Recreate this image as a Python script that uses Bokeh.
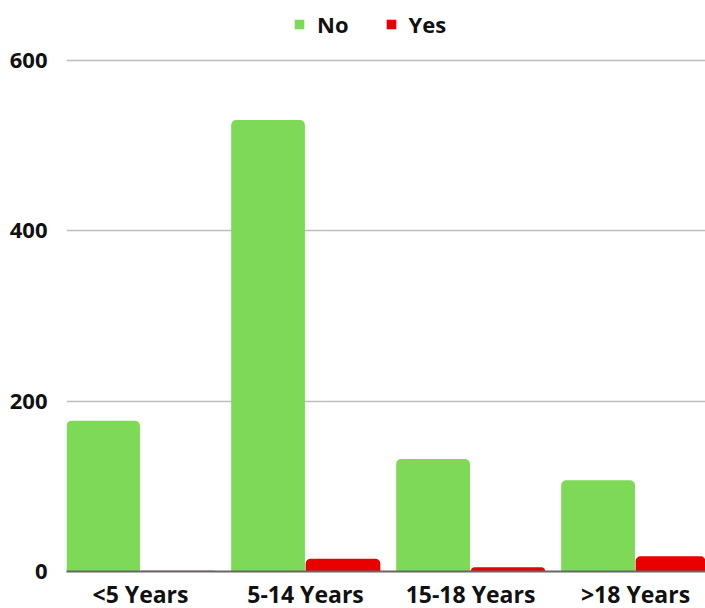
import numpy as np
from bokeh.plotting import figure
from bokeh.models import (ColumnDataSource, Range1d, FixedTicker, Legend, LegendItem)
from bokeh.transform import dodge
from bokeh.embed import file_html
from bokeh.resources import INLINE

categories = ["<5 Years", "5-14 Years", "15-18 Years", ">18 Years"]
no_values = [177, 530, 132, 107]
yes_values = [1, 15, 5, 18]
y_ticks = [0, 200, 400, 600]

GREEN = "#7ED957"
RED = "#E80000"
FONT = "Open Sans"

pos = np.arange(len(categories)) + 0.5
src = ColumnDataSource(dict(x=pos, no=no_values, yes=yes_values))

p = figure(frame_width=639, frame_height=571, output_backend="svg", toolbar_location=None,
           x_range=Range1d(0.0515, 3.924), y_range=Range1d(0, 670.4),
           min_border_left=66, min_border_right=0, min_border_top=0,
           min_border_bottom=0)
p.outline_line_color = None
p.background_fill_color = "white"
p.border_fill_color = "white"

r_no = p.vbar(x=dodge("x", -0.227, range=p.x_range), top="no", width=0.447,
              source=src, fill_color=GREEN, line_color=None,
              border_radius=(5, 5, 0, 0))
r_yes = p.vbar(x=dodge("x", 0.227, range=p.x_range), top="yes", width=0.453,
               source=src, fill_color=RED, line_color=None,
               border_radius=(5, 5, 0, 0))

p.xgrid.grid_line_color = None
p.ygrid.grid_line_color = "#BDBDBD"
p.ygrid.grid_line_width = 1.5
p.ygrid.ticker = FixedTicker(ticks=y_ticks)

p.yaxis.ticker = FixedTicker(ticks=y_ticks)
p.yaxis.axis_line_color = None
p.yaxis.major_tick_line_color = None
p.yaxis.minor_tick_line_color = None
p.yaxis.major_label_text_font = FONT
p.yaxis.major_label_text_font_style = "bold"
p.yaxis.major_label_text_font_size = "22px"
p.yaxis.major_label_text_color = "#111111"
p.yaxis.major_label_standoff = 13

p.xaxis.ticker = FixedTicker(ticks=list(pos))
p.xaxis.major_label_overrides = {float(v): c for v, c in zip(pos, categories)}
p.xaxis.axis_line_color = "#666666"
p.xaxis.axis_line_width = 2
p.xaxis.major_tick_line_color = None
p.xaxis.minor_tick_line_color = None
p.xaxis.major_label_text_font = FONT
p.xaxis.major_label_text_font_style = "bold"
p.xaxis.major_label_text_font_size = "23px"
p.xaxis.major_label_text_color = "#111111"
p.xaxis.major_label_standoff = 0

legend = Legend(items=[LegendItem(label="No", renderers=[r_no]),
                       LegendItem(label="Yes", renderers=[r_yes])],
                orientation="horizontal", location=(227, 532),
                label_text_font=FONT, label_text_font_style="bold",
                label_text_font_size="22px", label_text_color="#111111",
                glyph_width=12, glyph_height=12, label_standoff=12,
                spacing=36, border_line_color=None, background_fill_alpha=0,
                padding=0, margin=0)
p.add_layout(legend, "center")

open("out.html", "w").write(file_html(p, INLINE))
